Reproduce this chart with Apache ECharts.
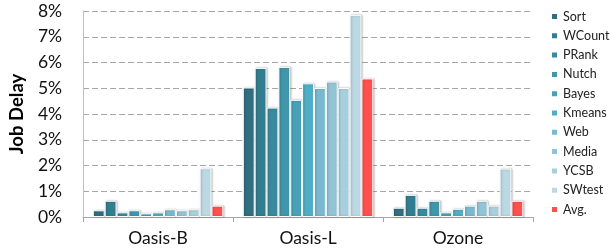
<!DOCTYPE html>
<html>
<head>
<meta charset="utf-8">
<script src="https://cdn.jsdelivr.net/npm/echarts@6/dist/echarts.min.js"></script>
<style>
  html, body { margin: 0; padding: 0; background: #fff; }
  #chart { width: 611px; height: 252px; }
</style>
</head>
<body>
<div id="chart"></div>
<script>
// ==============================
// data
// ==============================

const categories = ['Oasis-B', 'Oasis-L', 'Ozone'];
const seriesNames = ['Sort', 'WCount', 'PRank', 'Nutch', 'Bayes', 'Kmeans', 'Web', 'Media', 'YCSB', 'SWtest', 'Avg.'];

// job delay in %, one entry per category
const sortVals   = [0.26, 5.03, 0.36];
const wcountVals = [0.63, 5.79, 0.86];
const prankVals  = [0.18, 4.25, 0.36];
const nutchVals  = [0.26, 5.83, 0.63];
const bayesVals  = [0.14, 4.55, 0.18];
const kmeansVals = [0.18, 5.19, 0.32];
const webVals    = [0.30, 5.01, 0.44];
const mediaVals  = [0.26, 5.26, 0.63];
const ycsbVals   = [0.30, 5.01, 0.44];
const swtestVals = [1.89, 7.85, 1.88];
const avgVals    = [0.44, 5.38, 0.63];

const yTicks = [0, 1, 2, 3, 4, 5, 6, 7, 8];

// colours
const barColors = ['#2F6F7F', '#327D8F', '#398A9E', '#4096AA', '#47A2B7', '#4DAEC6',
                   '#79B9CF', '#92C4D5', '#A8CFDD', '#BCD8E3', '#FF5050'];

const allValues = [sortVals, wcountVals, prankVals, nutchVals, bayesVals, kmeansVals,
                   webVals, mediaVals, ycsbVals, swtestVals, avgVals];

const fontFamily = 'Lato, "Open Sans", sans-serif';

// ==============================
// chart
// ==============================

const chart = echarts.init(document.getElementById('chart'));

const series = seriesNames.map((name, i) => ({
  name: name,
  type: 'bar',
  data: allValues[i],
  barGap: '0%',
  barCategoryGap: '13%',
  itemStyle: {
    color: barColors[i],
    borderColor: '#fff',
    borderWidth: 1,
    shadowColor: 'rgba(0,0,0,0.25)',
    shadowBlur: 2,
    shadowOffsetX: 1,
    shadowOffsetY: 0
  },
  animation: false
}));

chart.setOption({
  animation: false,
  grid: { left: 81, right: 78, top: 11, bottom: 35 },
  legend: {
    orient: 'vertical',
    left: 550,
    top: 10,
    padding: 0,
    itemWidth: 7,
    itemHeight: 7,
    itemGap: 6.3,
    icon: 'rect',
    data: seriesNames,
    textStyle: { color: '#222', fontSize: 12.5, fontFamily: fontFamily }
  },
  xAxis: {
    type: 'category',
    data: categories,
    axisLine: { lineStyle: { color: '#A6A6A6', width: 1 } },
    axisTick: { show: true, length: 5, lineStyle: { color: '#A6A6A6' } },
    axisLabel: { color: '#111', fontSize: 17.5, fontFamily: fontFamily, margin: 12 }
  },
  yAxis: {
    type: 'value',
    min: 0,
    max: yTicks[yTicks.length - 1],
    interval: 1,
    name: 'Job Delay',
    nameLocation: 'middle',
    nameGap: 56,
    nameTextStyle: { color: '#000', fontSize: 18.5, fontWeight: 'bold', fontFamily: fontFamily },
    axisLine: { show: true, lineStyle: { color: '#BFBFBF' } },
    axisTick: { show: false },
    splitLine: { lineStyle: { color: '#A6A6A6', type: [6, 3], width: 1 } },
    axisLabel: {
      color: '#111',
      fontSize: 17.5,
      fontFamily: fontFamily,
      margin: 21,
      formatter: v => v + '%'
    }
  },
  series
});
</script>
</body>
</html>
